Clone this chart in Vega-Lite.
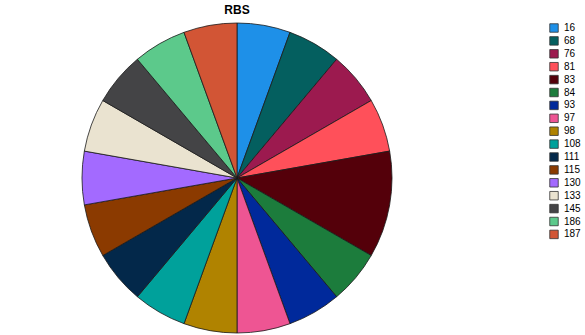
{
  "$schema": "https://vega.github.io/schema/vega-lite/v6.json",
  "width": 474,
  "height": 314,
  "autosize": {"type": "none"},
  "padding": {"left": 0, "top": 21, "right": 111, "bottom": 0},
  "title": {"text": "RBS", "fontSize": 12, "font": "Liberation Sans", "fontWeight": "bold", "color": "#000000", "anchor": "middle", "offset": 4},
  "data": {
    "values": [
      {"id": "16", "count": 1, "rank": 1},
      {"id": "68", "count": 1, "rank": 2},
      {"id": "76", "count": 1, "rank": 3},
      {"id": "81", "count": 1, "rank": 4},
      {"id": "83", "count": 2, "rank": 5},
      {"id": "84", "count": 1, "rank": 6},
      {"id": "93", "count": 1, "rank": 7},
      {"id": "97", "count": 1, "rank": 8},
      {"id": "98", "count": 1, "rank": 9},
      {"id": "108", "count": 1, "rank": 10},
      {"id": "111", "count": 1, "rank": 11},
      {"id": "115", "count": 1, "rank": 12},
      {"id": "130", "count": 1, "rank": 13},
      {"id": "133", "count": 1, "rank": 14},
      {"id": "145", "count": 1, "rank": 15},
      {"id": "186", "count": 1, "rank": 16},
      {"id": "187", "count": 1, "rank": 17}
    ]
  },
  "mark": {"type": "arc", "outerRadius": 155, "stroke": "#1a1a1a", "strokeWidth": 0.8},
  "encoding": {
    "theta": {"field": "count", "type": "quantitative", "stack": true},
    "order": {"field": "rank", "type": "quantitative"},
    "color": {
      "field": "id",
      "type": "nominal",
      "scale": {
        "domain": ["16", "68", "76", "81", "83", "84", "93", "97", "98", "108", "111", "115", "130", "133", "145", "186", "187"],
        "range": ["#1e90e8", "#045f5f", "#9c1a4f", "#ff505a", "#54000a", "#1c7c3c", "#00299b", "#ee5593", "#b08300", "#00a19b", "#03284a", "#8b3a00", "#a36aff", "#eae3d0", "#444446", "#5cc98b", "#d25535"]
      },
      "legend": {
        "orient": "none",
        "legendX": 549,
        "legendY": 2,
        "title": null,
        "symbolType": "square",
        "symbolSize": 72,
        "symbolStrokeColor": "#333333",
        "symbolStrokeWidth": 0.8,
        "labelFontSize": 10,
        "labelFont": "Liberation Sans",
        "labelColor": "#000000",
        "labelOffset": 5,
        "rowPadding": 0.9
      }
    }
  },
  "config": {"view": {"stroke": null}}
}
